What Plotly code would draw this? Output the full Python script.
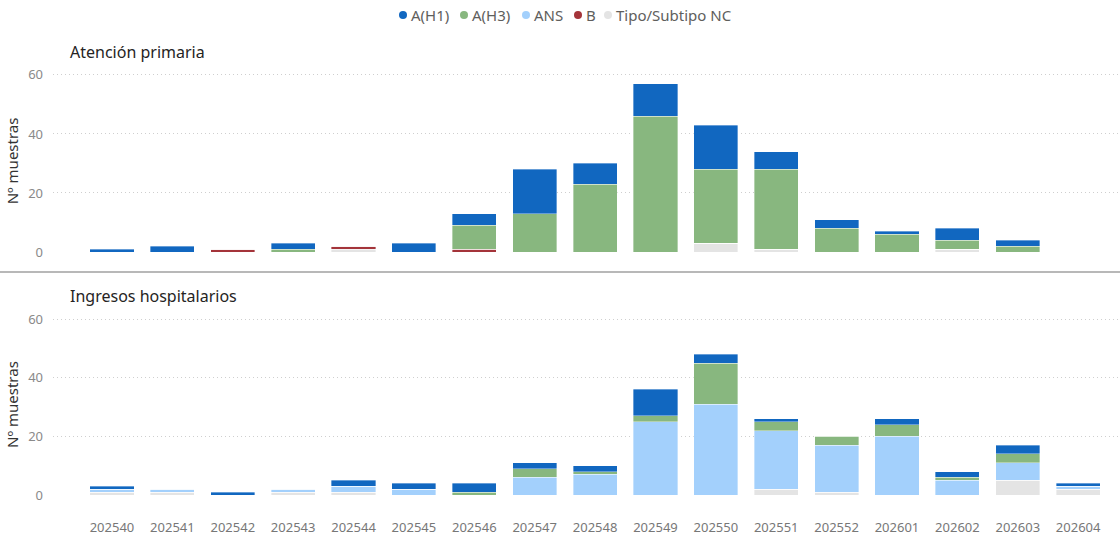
import plotly.graph_objects as go

# semanas epidemiológicas
semanas = ["202540", "202541", "202542", "202543", "202544", "202545", "202546",
           "202547", "202548", "202549", "202550", "202551", "202552", "202601",
           "202602", "202603", "202604"]

# Atención primaria
ap_nc  = [0, 0, 0, 0, 1, 0, 0, 0, 0, 0, 3, 1, 0, 0, 1, 0, 0]
ap_b   = [0, 0, 1, 0, 1, 0, 1, 0, 0, 0, 0, 0, 0, 0, 0, 0, 0]
ap_ans = [0, 0, 0, 0, 0, 0, 0, 0, 0, 0, 0, 0, 0, 0, 0, 0, 0]
ap_h3  = [0, 0, 0, 1, 0, 0, 8, 13, 23, 46, 25, 27, 8, 6, 3, 2, 0]
ap_h1  = [1, 2, 0, 2, 0, 3, 4, 15, 7, 11, 15, 6, 3, 1, 4, 2, 0]

# Ingresos hospitalarios
ih_nc  = [1, 1, 0, 1, 1, 0, 0, 0, 0, 0, 0, 2, 1, 0, 0, 5, 2]
ih_b   = [0, 0, 0, 0, 0, 0, 0, 0, 0, 0, 0, 0, 0, 0, 0, 0, 0]
ih_ans = [1, 1, 0, 1, 2, 2, 0, 6, 7, 25, 31, 20, 16, 20, 5, 6, 1]
ih_h3  = [0, 0, 0, 0, 0, 0, 1, 3, 1, 2, 14, 3, 3, 4, 1, 3, 0]
ih_h1  = [1, 0, 1, 0, 2, 2, 3, 2, 2, 9, 3, 1, 0, 2, 2, 3, 1]

series = ["Tipo/Subtipo NC", "B", "ANS", "A(H3)", "A(H1)"]
orden_leyenda = ["A(H1)", "A(H3)", "ANS", "B", "Tipo/Subtipo NC"]
colores = {
    "A(H1)": "#1167C0",
    "A(H3)": "#88B77F",
    "ANS": "#A3D0FC",
    "B": "#A4343A",
    "Tipo/Subtipo NC": "#E4E4E4",
}
paneles = [
    ([ap_nc, ap_b, ap_ans, ap_h3, ap_h1], "x", "y"),
    ([ih_nc, ih_b, ih_ans, ih_h3, ih_h1], "x2", "y2"),
]

fig = go.Figure()
for datos, xa, ya in paneles:
    for nombre, vals in zip(series, datos):
        fig.add_trace(go.Bar(
            x=semanas, y=vals, name=nombre, xaxis=xa, yaxis=ya,
            marker=dict(color=colores[nombre], line=dict(width=0.6, color="rgba(255,255,255,0.6)")),
            showlegend=False,
        ))

W, H = 1120, 539
L, R = 53, 2
PW = W - L - R


def px_x(p):
    return (p - L) / PW


def px_y(p):
    return (H - p) / H


fuente = "Segoe UI, Noto Sans, sans-serif"
rango_x = [-0.977, 16.66]
eje_y = dict(
    range=[-0.3, 62], tickvals=[0, 20, 40, 60], showgrid=True,
    gridcolor="#CFCFCF", griddash="1px,3px", gridwidth=1, zeroline=False,
    tickfont=dict(size=13, color="#8A8A8A"), ticks="", ticklabelstandoff=9,
    title=dict(text="Nº muestras", font=dict(size=15, color="#333333"), standoff=5),
    fixedrange=True, automargin=False,
)

anotaciones = [
    dict(text="Atención primaria", xref="paper", yref="paper",
         x=px_x(68), y=px_y(52), xanchor="left", yanchor="middle",
         showarrow=False, font=dict(size=16, color="#252423")),
    dict(text="Ingresos hospitalarios", xref="paper", yref="paper",
         x=px_x(68), y=px_y(296), xanchor="left", yanchor="middle",
         showarrow=False, font=dict(size=16, color="#252423")),
]
formas = [
    dict(type="line", xref="paper", yref="paper", x0=px_x(0), x1=px_x(W),
         y0=px_y(272), y1=px_y(272), line=dict(color="#A0A0A0", width=1.5)),
]

# leyenda: círculo + texto por serie
pos_leyenda = [403, 464, 526, 578, 608]
for nombre, xp in zip(orden_leyenda, pos_leyenda):
    formas.append(dict(
        type="circle", xref="paper", yref="paper",
        xsizemode="pixel", ysizemode="pixel",
        xanchor=px_x(xp), yanchor=px_y(15),
        x0=-4, x1=4, y0=-4, y1=4,
        fillcolor=colores[nombre], line=dict(width=0),
    ))
    anotaciones.append(dict(
        text=nombre, xref="paper", yref="paper",
        x=px_x(xp + 6), y=px_y(15), xanchor="left", yanchor="middle",
        showarrow=False, font=dict(size=15, color="#605E5C"),
    ))

fig.update_layout(
    width=W, height=H,
    margin=dict(l=L, r=R, t=0, b=0),
    plot_bgcolor="white", paper_bgcolor="white",
    barmode="stack", bargap=0.27,
    font=dict(family=fuente),
    showlegend=False,
    xaxis=dict(range=rango_x, type="category", anchor="y",
               showticklabels=False, showgrid=False, automargin=False),
    xaxis2=dict(range=rango_x, type="category", anchor="y2",
                showgrid=False, ticks="", automargin=False,
                tickfont=dict(size=13, color="#777777"), ticklabelstandoff=22),
    yaxis=dict(domain=[px_y(252.9), px_y(69)], anchor="x", **eje_y),
    yaxis2=dict(domain=[px_y(495.9), px_y(313.2)], anchor="x2", **eje_y),
    annotations=anotaciones,
    shapes=formas,
)

# sin margen del body para que la figura ocupe toda la ventana
fig.write_html("out.html", config={"displayModeBar": False},
               post_script="document.body.style.margin='0';")
